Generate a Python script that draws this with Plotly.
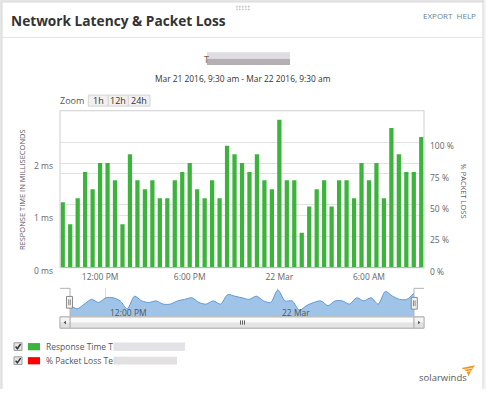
import plotly.graph_objects as go
import pandas as pd

W, H = 486, 398

# ---------------- data ----------------
times = pd.date_range("2016-03-21 09:30", periods=49, freq="30min")

response_ms = [1.25, 0.83, 1.33, 1.83, 1.50, 2.00, 2.00, 1.67, 0.83, 2.17,
               1.67, 1.50, 1.67, 1.33, 1.33, 1.67, 1.83, 2.00, 1.50, 1.33,
               1.67, 1.33, 2.33, 2.17, 2.00, 1.83, 2.17, 1.67, 1.50, 2.83,
               1.67, 1.67, 0.67, 1.17, 1.50, 1.67, 1.17, 1.67, 1.67, 1.33,
               2.00, 1.67, 2.00, 1.33, 2.67, 2.17, 1.83, 1.83, 2.50]

packet_loss_pct = [0, 0, 0, 0, 0, 0, 0, 0, 0, 0,
                   0, 0, 0, 0, 0, 0, 0, 0, 0, 0,
                   0, 0, 0, 0, 0, 0, 0, 0, 0, 0,
                   0, 0, 0, 0, 0, 0, 0, 0, 0, 0,
                   0, 0, 0, 0, 0, 0, 0, 0, 0]

x_tick_vals = ["2016-03-21 12:00", "2016-03-21 18:00", "2016-03-22 00:00", "2016-03-22 06:00"]
x_tick_text = ["12:00 PM", "6:00 PM", "22 Mar", "6:00 AM"]
nav_tick_vals = ["2016-03-21 12:00", "2016-03-22 00:00"]
nav_tick_text = ["12:00 PM", "22 Mar"]
left_tick_vals = [0, 1, 2]
left_tick_text = ["0 ms", "1 ms", "2 ms"]
right_tick_vals = [0, 25, 50, 75, 100]
right_tick_text = ["0 %", "25 %", "50 %", "75 %", "100 %"]
zoom_buttons = ["1h", "12h", "24h"]
legend_labels = ["Response Time T", "% Packet Loss Te"]
legend_colors = ["#3cb43c", "#ff0000"]

title_text = "Network Latency & Packet Loss"
date_text = "Mar 21 2016, 9:30 am - Mar 22 2016, 9:30 am"

FONT = "Open Sans"


def X(px):
    return px / W


def Y(py):
    return 1 - py / H


shapes = []
annotations = []


def rect(x0, y0, x1, y1, fill="rgba(0,0,0,0)", line="rgba(0,0,0,0)", lw=1, layer="above"):
    shapes.append(dict(type="rect", xref="paper", yref="paper",
                       x0=X(x0), x1=X(x1), y0=Y(y1), y1=Y(y0),
                       fillcolor=fill, line=dict(color=line, width=lw), layer=layer))


def seg(x0, y0, x1, y1, color, lw=1, layer="above"):
    shapes.append(dict(type="line", xref="paper", yref="paper",
                       x0=X(x0), x1=X(x1), y0=Y(y0), y1=Y(y1),
                       line=dict(color=color, width=lw), layer=layer))


def poly(pts, fill, line="rgba(0,0,0,0)", lw=0):
    p = "M " + " L ".join(f"{X(a):.5f},{Y(b):.5f}" for a, b in pts) + " Z"
    shapes.append(dict(type="path", xref="paper", yref="paper", path=p,
                       fillcolor=fill, line=dict(color=line, width=lw), layer="above"))


def text(x, y, s, size, color, xanchor="left", bold=False, angle=0, family=FONT):
    annotations.append(dict(xref="paper", yref="paper", x=X(x), y=Y(y), text=(f"<b>{s}</b>" if bold else s),
                            showarrow=False, xanchor=xanchor, yanchor="middle", textangle=angle,
                            font=dict(family=family, size=size, color=color), borderpad=0))


# ---------------- panel chrome ----------------
rect(0, 0, 486, 2, fill="#e6e6e6", layer="below")
rect(0, 0, 2, 398, fill="#e6e6e6", layer="below")
rect(483.5, 0, 486, 398, fill="#f3f3f3", layer="below")
seg(483, 0, 483, 398, "#d2d2d2")
seg(2, 2, 483, 2, "#d8d8d8")
seg(2, 2, 2, 398, "#d8d8d8")
seg(2, 38.3, 483, 38.3, "#e2e2e2")
# drag handle dots
for cx in [236, 239, 242, 245, 248]:
    for cy in [6, 9]:
        rect(cx, cy, cx + 1.6, cy + 1.6, fill="#c4c4c4")

text(10, 20.5, title_text, 13.7, "#333333", bold=True)
text(477, 15.5, "EXPORT&nbsp;&nbsp;HELP", 8, "#6d7f96", xanchor="right")

# blurred subtitle
text(202.5, 61, "T", 9, "#7a5a35")
rect(207, 53.5, 290, 60, fill="#dedde2")
rect(207, 60, 290, 66.5, fill="#b3afb5")
text(243.5, 80.3, date_text, 8.4, "#333333", xanchor="center")

# zoom buttons
text(58.5, 102.5, "Zoom", 9, "#555555")
bx = [88.3, 108.3, 128.3, 150]
for i, lab in enumerate(zoom_buttons):
    rect(bx[i], 97.3, bx[i + 1], 108.6, fill="#f0f0f0", line="#d6d6d6")
    text((bx[i] + bx[i + 1]) / 2, 102.8, lab, 9, "#333333", xanchor="center")

# axis titles
text(22, 194.5, "RESPONSE TIME IN MILLISECONDS", 7.5, "#5e5666", xanchor="center", angle=-90)
text(464, 195, "% PACKET LOSS", 7.5, "#5e5666", xanchor="center", angle=90)

# plot border
rect(60, 113.3, 424, 274, line="#cfcfcf")

# ---------------- navigator chrome ----------------
seg(60, 295, 70, 295, "#b4b4b4")
seg(70, 295, 70, 324, "#b4b4b4")
seg(414, 295, 424, 295, "#b4b4b4")
seg(414, 295, 414, 324, "#b4b4b4")
for tv, tt in zip(nav_tick_vals, nav_tick_text):
    annotations.append(dict(xref="x3", yref="paper", x=tv, y=Y(319.5), text=tt, showarrow=False,
                            xanchor="left", yanchor="middle", xshift=2,
                            font=dict(family=FONT, size=8.5, color="#555555")))

# scrollbar
rect(60, 324, 424, 336, fill="#f2f2f2", line="#c4c4c4")
rect(70, 324.3, 414, 330, fill="#fbfbfb")
rect(70, 330, 414, 335.7, fill="#e4e4e4")
rect(70, 324.3, 414, 335.7, line="#b4b4b4")
for bx0 in [60, 414]:
    rect(bx0, 324.3, bx0 + 10, 330, fill="#f4f4f4")
    rect(bx0, 330, bx0 + 10, 335.7, fill="#e0e0e0")
    rect(bx0, 324.3, bx0 + 10, 335.7, line="#b4b4b4")
poly([(63.6, 330), (66, 328.2), (66, 331.8)], "#555555")
poly([(420.4, 330), (418, 328.2), (418, 331.8)], "#555555")
for gx in [240.5, 242.5, 244.5]:
    seg(gx, 327.8, gx, 332.2, "#666666")

# handles
for hx0, hy0 in [(66.5, 303.3), (411.3, 304.3)]:
    rect(hx0, hy0, hx0 + 6, hy0 + 12, fill="#f2f2f2", line="#8c8c8c")
    seg(hx0 + 2.2, hy0 + 3, hx0 + 2.2, hy0 + 9, "#8c8c8c")
    seg(hx0 + 3.8, hy0 + 3, hx0 + 3.8, hy0 + 9, "#8c8c8c")

# ---------------- legend ----------------
rows_y = [354.6, 369]
for i, (lab, col) in enumerate(zip(legend_labels, legend_colors)):
    yc = rows_y[i]
    rect(14, yc - 3.9, 22, yc + 3.9, fill="#e6e6e6", line="#9a9a9a")
    shapes.append(dict(type="path", xref="paper", yref="paper",
                       path=f"M {X(15.6)},{Y(yc)} L {X(17.4)},{Y(yc + 2.2)} L {X(20.6)},{Y(yc - 2.6)}",
                       line=dict(color="#333333", width=1.5), layer="above"))
    rect(28, yc - 3.6, 40, yc + 3.8, fill=col)
    text(45, yc, lab, 8.5, "#555555")
rect(113.5, 350.5, 185, 359, fill="#e3e3e7")
rect(113.5, 365, 177, 373, fill="#e2e0e0")

# solarwinds logo
text(418, 386, "solarwinds", 9.5, "#5a5a5a")
poly([(461.5, 376.5), (475, 373.8), (471, 379.5), (468.5, 385), (466.5, 379.8)], "#f7941d")
seg(463, 378.2, 472.5, 376.6, "#ffffff", lw=0.7)
seg(465, 380.6, 470.5, 379.4, "#ffffff", lw=0.7)

# ---------------- traces ----------------
fig = go.Figure()
fig.add_trace(go.Bar(x=times, y=response_ms, marker=dict(color="#3cb43c", line=dict(width=0)),
                     xaxis="x", yaxis="y", showlegend=False, name="Response Time"))
fig.add_trace(go.Scatter(x=times, y=packet_loss_pct, mode="lines", line=dict(color="#ff2020", width=1.6),
                         xaxis="x", yaxis="y2", showlegend=False, cliponaxis=False, name="% Packet Loss"))
fig.add_trace(go.Scatter(x=times, y=response_ms, mode="lines", line=dict(color="#5d99d3", width=1, shape="spline", smoothing=0.8),
                         fill="tozeroy", fillcolor="#9fc4e7", xaxis="x3", yaxis="y3", showlegend=False,
                         hoverinfo="skip"))

tickfont = dict(family=FONT, size=8.5, color="#666666")
fig.update_layout(
    width=W, height=H, autosize=False,
    margin=dict(l=0, r=0, t=0, b=0, pad=0),
    paper_bgcolor="#ffffff", plot_bgcolor="rgba(0,0,0,0)",
    bargap=0.43,
    xaxis=dict(domain=[X(60), X(424)], anchor="y", type="date",
               range=["2016-03-21 09:19:00", "2016-03-22 09:41:00"],
               tickmode="array", tickvals=x_tick_vals, ticktext=x_tick_text,
               showgrid=False, showline=False, zeroline=False, ticks="",
               tickfont=tickfont, ticklabelstandoff=3, fixedrange=True),
    yaxis=dict(domain=[Y(274), Y(113.3)], anchor="x", range=[0, 3],
               tickmode="array", tickvals=left_tick_vals, ticktext=left_tick_text,
               showgrid=True, gridcolor="#e2e2e2", gridwidth=1, zeroline=False, showline=False,
               ticks="", tickfont=tickfont, ticklabelstandoff=6, ticklabelshift=3),
    yaxis2=dict(overlaying="y", side="right", anchor="x", range=[0, 125],
                tickmode="array", tickvals=right_tick_vals, ticktext=right_tick_text,
                showgrid=True, gridcolor="#e2e2e2", gridwidth=1, zeroline=False, showline=False,
                ticks="", tickfont=tickfont, ticklabelstandoff=5, ticklabelshift=4),
    xaxis3=dict(domain=[X(70), X(414)], anchor="y3", type="date",
                range=[times[0], times[-1]],
                tickmode="array", tickvals=nav_tick_vals, ticktext=nav_tick_text,
                showticklabels=False, showgrid=True, gridcolor="#dadada", zeroline=False,
                showline=False, ticks=""),
    yaxis3=dict(domain=[Y(324), Y(295)], anchor="x3", range=[0, 3.0],
                showticklabels=False, showgrid=False, zeroline=False, showline=False, ticks=""),
    shapes=shapes,
    annotations=annotations,
    hovermode=False,
)

post = (
    "var d=document.documentElement,b=document.body;"
    "d.style.margin='0';d.style.padding='0';d.style.overflow='hidden';"
    "b.style.margin='0';b.style.padding='0';b.style.overflow='hidden';"
)
fig.write_html("out.html", config={"displayModeBar": False}, post_script=post)
